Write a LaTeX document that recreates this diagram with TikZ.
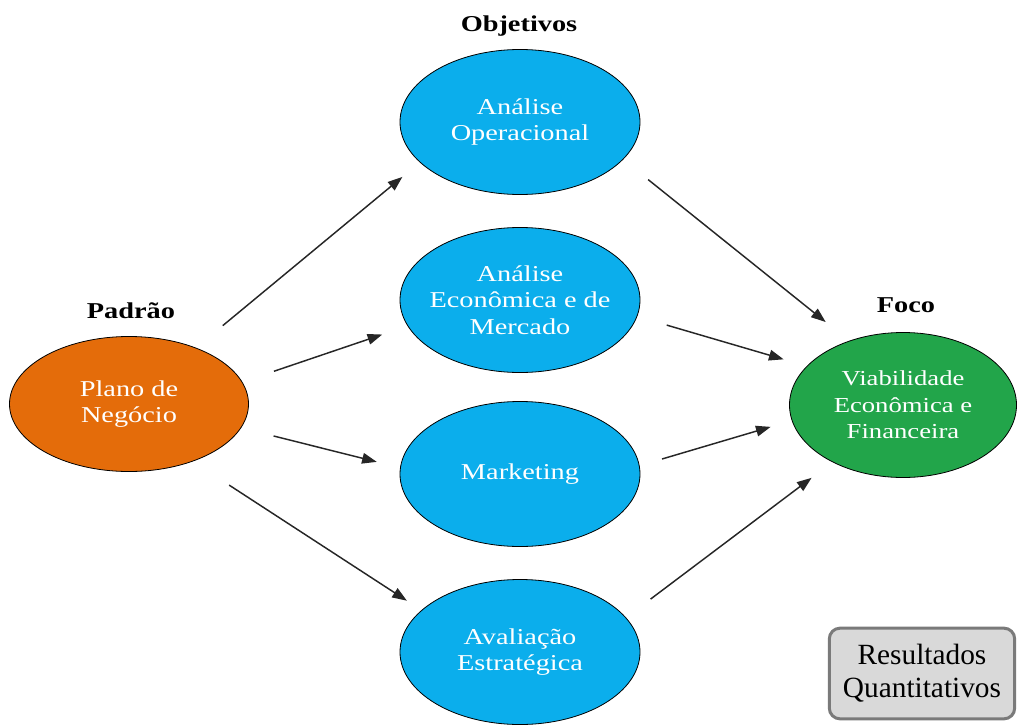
\documentclass[tikz,border=0pt]{standalone}
\usepackage{fontspec}
\setmainfont{Liberation Serif}
\newfontfamily\widefont[FakeStretch=1.25]{Liberation Serif}
\usetikzlibrary{shapes.geometric,arrows.meta}
\definecolor{laranja}{HTML}{E46C0A}
\definecolor{azulobj}{HTML}{0BAEEC}
\definecolor{verdefoco}{HTML}{22A54A}
\definecolor{cinzacaixa}{HTML}{D9D9D9}
\definecolor{bordacaixa}{HTML}{7A7A7A}

\begin{document}
\begin{tikzpicture}[x=0.75pt,y=0.75pt,yscale=-1,xscale=1,
    elipse/.style={ellipse,draw=black,line width=0.6pt,align=center,text=white,inner xsep=-12pt,inner ysep=0pt,font=\widefont\fontsize{17}{20}\selectfont},
    objetivo/.style={elipse,fill=azulobj,minimum width=180pt,minimum height=108.75pt},
    titulo/.style={anchor=base,inner sep=0.75pt,font=\widefont\bfseries\fontsize{17}{20}\selectfont},
    seta/.style={draw=black!85,line width=1.1pt,-{Triangle[length=11pt,width=8pt]}}]
        \useasboundingbox (0,0) rectangle (1018,725);
        %Shape: Ellipse
        \node[elipse,fill=laranja,minimum width=179.25pt,minimum height=101.25pt] (plano) at (129,404) {Plano de\\Negócio};
        %Shape: Ellipse
        \node[objetivo] (oper) at (520,122) {Análise\\Operacional};
        %Shape: Ellipse
        \node[objetivo] (econ) at (520,300) {Análise\\Econômica e de\\Mercado};
        %Shape: Ellipse
        \node[objetivo] (mkt) at (520,474) {Marketing};
        %Shape: Ellipse
        \node[objetivo] (aval) at (520,652) {Avaliação\\Estratégica};
        %Shape: Ellipse
        \node[elipse,fill=verdefoco,font=\widefont\fontsize{16}{20}\selectfont,minimum width=170.25pt,minimum height=108.75pt] (viab) at (903,405) {Viabilidade\\Econômica e\\Financeira};
        % Text Node
        \node[titulo] (tobj) at (519,31) {Objetivos};
        % Text Node
        \node[titulo] (tpad) at (131,318) {Padrão};
        % Text Node
        \node[titulo] (tfoco) at (906,312) {Foco};
        %Shape: Rounded Rect
        \node[draw=bordacaixa,fill=cinzacaixa,line width=2.25pt,rounded corners=8pt,minimum width=139pt,minimum height=68pt,align=center,font=\fontsize{22}{25}\selectfont] (res) at (922,673.5) {Resultados\\Quantitativos};
        %Straight Lines
        \draw[seta,shorten <=26pt,shorten >=17pt] (plano.40) -- (oper.202.6);
        \draw[seta,shorten <=25pt,shorten >=20pt] (plano.11) -- (econ.193);
        \draw[seta,shorten <=25pt,shorten >=18pt] (plano.348) -- (mkt.177);
        \draw[seta,shorten <=32.5pt,shorten >=13pt] (plano.318) -- (aval.157);
        %Straight Lines
        \draw[seta,shorten <=24pt,shorten >=22.5pt] (oper.340) -- (viab.130);
        \draw[seta,shorten <=23pt,shorten >=18pt] (econ.352) -- (viab.158);
        \draw[seta,shorten <=17.5pt,shorten >=16.5pt] (mkt.4) -- (viab.188);
        \draw[seta,shorten <=23pt,shorten >=19.5pt] (aval.18) -- (viab.219);
    \end{tikzpicture}
\end{document}
